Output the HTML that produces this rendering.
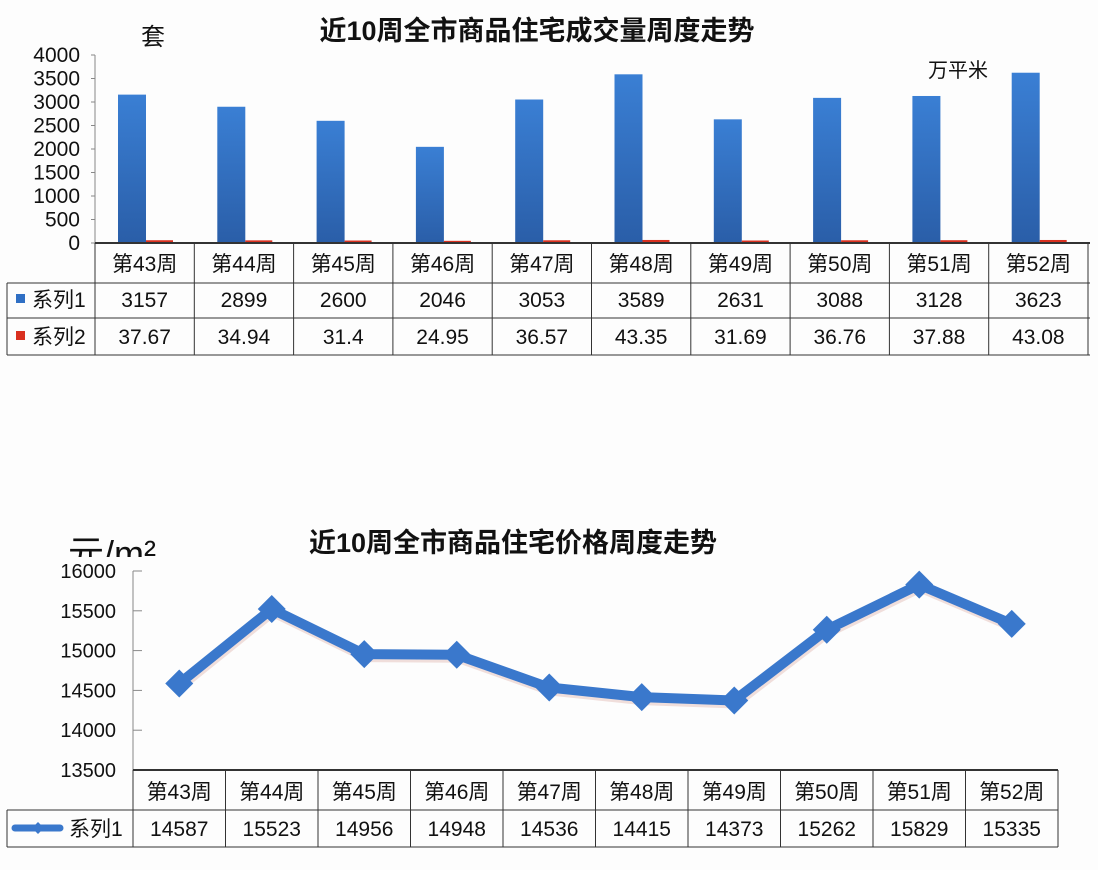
<!DOCTYPE html>
<html><head><meta charset="utf-8">
<style>
html,body{margin:0;padding:0;background:#fdfdfd;}
svg{display:block;font-family:"Liberation Sans","Noto Sans CJK SC",sans-serif;}
</style></head>
<body>
<svg id="c" width="1098" height="870" viewBox="0 0 1098 870">
<defs>
<linearGradient id="bg" x1="0" y1="0" x2="0" y2="1"><stop offset="0" stop-color="#3a7fd4"/><stop offset="1" stop-color="#2a5ea8"/></linearGradient>
</defs>
</svg>
<script>
const categories=["第43周","第44周","第45周","第46周","第47周","第48周","第49周","第50周","第51周","第52周"];
const units=[3157,2899,2600,2046,3053,3589,2631,3088,3128,3623];
const area=[37.67,34.94,31.4,24.95,36.57,43.35,31.69,36.76,37.88,43.08];
const areaLabels=["37.67","34.94","31.4","24.95","36.57","43.35","31.69","36.76","37.88","43.08"];
const prices=[14587,15523,14956,14948,14536,14415,14373,15262,15829,15335];
const ticks1=[0,500,1000,1500,2000,2500,3000,3500,4000];
const ticks2=[13500,14000,14500,15000,15500,16000];

const svg=document.getElementById('c');
const NS='http://www.w3.org/2000/svg';
function mk(tag,attrs,parent){const e=document.createElementNS(NS,tag);for(const k in attrs)e.setAttribute(k,attrs[k]);(parent||svg).appendChild(e);return e;}
function txt(x,y,s,size,anchor,weight,parent){const t=mk('text',{x:x,y:y,'font-size':size,'text-anchor':anchor||'middle','font-weight':weight||'normal',fill:'#111'},parent);t.textContent=s;return t;}

// ---------- Chart 1 ----------
const g1=mk('g',{});


const x0=95,colW=99.3,yBase=243,yTop=55;
const y1=v=>yBase-(v/4000)*(yBase-yTop);
const t1=txt(537,40,"近10周全市商品住宅成交量周度走势",27,'middle','bold',g1);


const u1=txt(153,45,"套",24,'middle','normal',g1);


const u2=txt(958,77,"万平米",20,'middle','normal',g1);


mk('line',{x1:x0,y1:yTop,x2:x0,y2:yBase,stroke:'#888','stroke-width':1},g1);
ticks1.forEach(v=>{
  mk('line',{x1:x0-4,y1:y1(v),x2:x0,y2:y1(v),stroke:'#888'},g1);
  const t=txt(80,y1(v)+7,String(v),21,'end','normal',g1);
  
  
});
categories.forEach((c,i)=>{
  const cx=x0+i*colW;
  const b=mk('rect',{x:cx+23,y:y1(units[i]),width:28,height:yBase-y1(units[i]),fill:'url(#bg)'},g1);
  
  
  const r=mk('rect',{x:cx+51,y:y1(area[i])-1,width:27,height:Math.max(3,yBase-y1(area[i])+1),fill:'#d9301f'},g1);
  
  
});
const tb1=mk('g',{stroke:'#333','stroke-width':1,fill:'none'},g1);
mk('line',{x1:x0,y1:yBase,x2:1090,y2:yBase,'stroke-width':2},tb1);
mk('line',{x1:7,y1:283,x2:1090,y2:283},tb1);
mk('line',{x1:7,y1:318,x2:1090,y2:318},tb1);
mk('line',{x1:7,y1:355,x2:1090,y2:355},tb1);
mk('line',{x1:7,y1:283,x2:7,y2:355},tb1);
for(let i=0;i<=10;i++){mk('line',{x1:x0+i*colW,y1:yBase,x2:x0+i*colW,y2:355},tb1);}
categories.forEach((c,i)=>{
  const cx=x0+i*colW+colW/2;
  const h=txt(cx,271,c,21,'middle','normal',g1);
  
  
  const a=txt(cx,307,String(units[i]),21,'middle','normal',g1);
  
  
  const b=txt(cx,344,areaLabels[i],21,'middle','normal',g1);
  
  
});
const lk1=mk('rect',{x:16,y:294,width:9,height:9,fill:'#2f6fc4'},g1);


const l1=txt(32,307,"系列1",21,'start','normal',g1);


const lk2=mk('rect',{x:16,y:331,width:9,height:9,fill:'#d9301f'},g1);


const l2=txt(32,344,"系列2",21,'start','normal',g1);



// ---------- Chart 2 ----------
const g2=mk('g',{});


const X0=133,CW=92.5,YB=770,YT=571;
const y2=v=>YB-(v-13500)/2500*(YB-YT);
const u3=txt(68,566,"元/m²",36,'start','normal',g2);


mk('rect',{x:55,y:557,width:130,height:40,fill:'#fdfdfd'},g2);
const t2=txt(513,552,"近10周全市商品住宅价格周度走势",27,'middle','bold',g2);


mk('line',{x1:X0,y1:YT,x2:X0,y2:YB,stroke:'#888'},g2);
ticks2.forEach(v=>{
  mk('line',{x1:X0,y1:y2(v),x2:X0+9,y2:y2(v),stroke:'#888'},g2);
  const t=txt(116,y2(v)+7,String(v),20,'end','normal',g2);
  
  
});
const pts=prices.map((v,i)=>[X0+i*CW+CW/2,y2(v)]);
mk('polyline',{points:pts.map(p=>(p[0]+1)+','+(p[1]+3)).join(' '),fill:'none',stroke:'#e8c9c4','stroke-width':10,'stroke-linejoin':'round',opacity:0.6},g2);
const ln=mk('polyline',{points:pts.map(p=>p.join(',')).join(' '),fill:'none',stroke:'#3a78cc','stroke-width':10,'stroke-linejoin':'round'},g2);


pts.forEach((p,i)=>{
  const d=mk('polygon',{points:`${p[0]},${p[1]-14} ${p[0]+14},${p[1]} ${p[0]},${p[1]+14} ${p[0]-14},${p[1]}`,fill:'#3a78cc'},g2);
  
  
});
const tb2=mk('g',{stroke:'#333','stroke-width':1,fill:'none'},g2);
mk('line',{x1:X0,y1:YB,x2:1058,y2:YB,'stroke-width':2},tb2);
mk('line',{x1:7,y1:810,x2:1058,y2:810},tb2);
mk('line',{x1:7,y1:847,x2:1058,y2:847},tb2);
mk('line',{x1:7,y1:810,x2:7,y2:847},tb2);
for(let i=0;i<=10;i++){mk('line',{x1:X0+i*CW,y1:YB,x2:X0+i*CW,y2:847},tb2);}
categories.forEach((c,i)=>{
  const cx=X0+i*CW+CW/2;
  const h=txt(cx,799,c,21,'middle','normal',g2);
  
  
  const a=txt(cx,836,String(prices[i]),21,'middle','normal',g2);
  
  
});
const lk3=mk('line',{x1:15,y1:828,x2:60,y2:828,stroke:'#3a78cc','stroke-width':7,'stroke-linecap':'round'},g2);


mk('polygon',{points:'38,822 44,828 38,834 32,828',fill:'#3a78cc'},g2);
const l3=txt(69,836,"系列1",21,'start','normal',g2);


</script>
</body></html>
